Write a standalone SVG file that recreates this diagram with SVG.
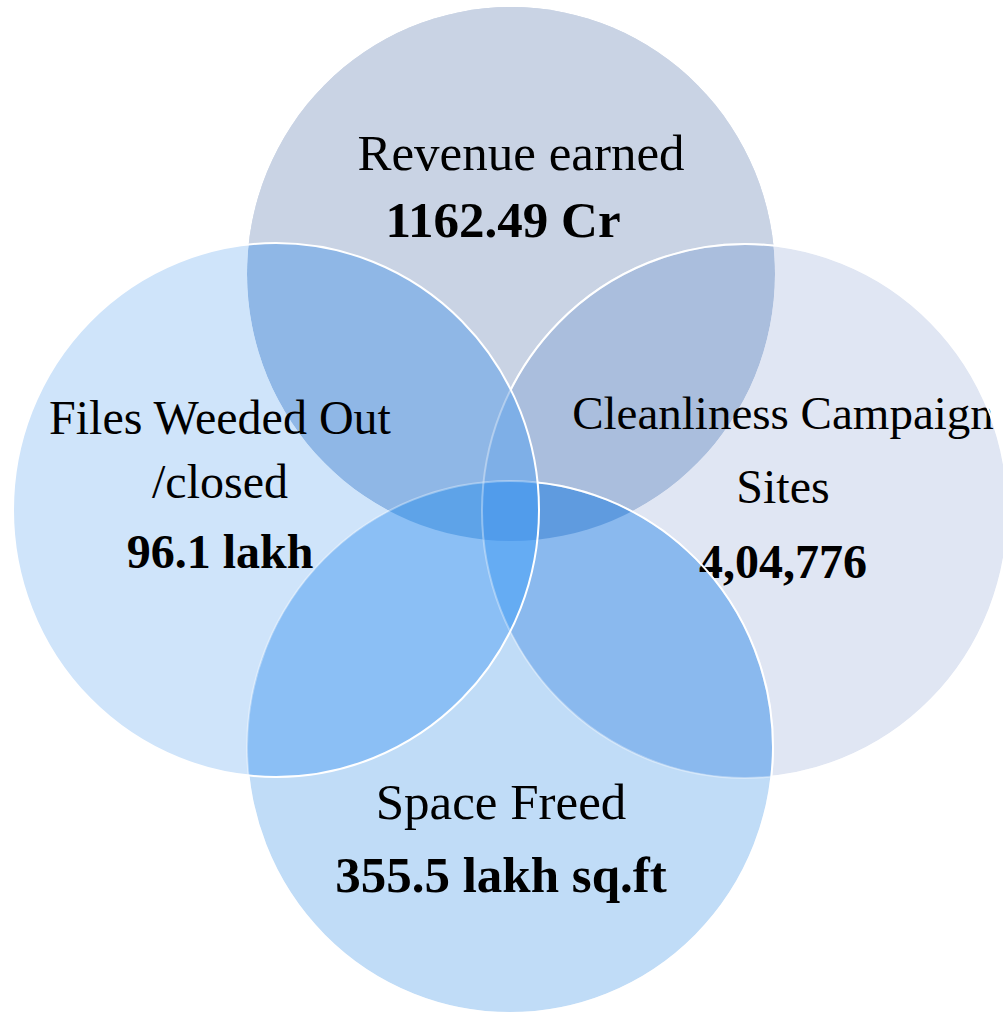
<svg xmlns="http://www.w3.org/2000/svg" xmlns:xlink="http://www.w3.org/1999/xlink" width="1003" height="1016" viewBox="0 0 1003 1016">
<style>
.lbl{font-family:"Liberation Serif","Times New Roman",serif;fill:#000;text-anchor:middle}
.m{font-size:48px}
.s{font-size:47px}
.l{font-size:51px}
.b{font-weight:bold}
</style>
<defs>
<ellipse id="eT" cx="511" cy="274" rx="264" ry="267"/>
<ellipse id="eL" cx="276" cy="510" rx="263" ry="267"/>
<ellipse id="eR" cx="745" cy="511" rx="263" ry="267"/>
<ellipse id="eB" cx="510" cy="747" rx="263" ry="266"/>
<clipPath id="cT"><ellipse cx="511" cy="274" rx="264" ry="267"/></clipPath>
<clipPath id="cL"><ellipse cx="276" cy="510" rx="263" ry="267"/></clipPath>
<clipPath id="cR"><ellipse cx="745" cy="511" rx="263" ry="267"/></clipPath>
<mask id="xT" maskUnits="userSpaceOnUse" x="0" y="0" width="1003" height="1016"><rect width="1003" height="1016" fill="#fff"/><use href="#eL" fill="#000"/><use href="#eR" fill="#000"/><use href="#eB" fill="#000"/></mask>
<mask id="xL" maskUnits="userSpaceOnUse" x="0" y="0" width="1003" height="1016"><rect width="1003" height="1016" fill="#fff"/><use href="#eT" fill="#000"/><use href="#eR" fill="#000"/><use href="#eB" fill="#000"/></mask>
<mask id="xR" maskUnits="userSpaceOnUse" x="0" y="0" width="1003" height="1016"><rect width="1003" height="1016" fill="#fff"/><use href="#eT" fill="#000"/><use href="#eL" fill="#000"/><use href="#eB" fill="#000"/></mask>
<mask id="xB" maskUnits="userSpaceOnUse" x="0" y="0" width="1003" height="1016"><rect width="1003" height="1016" fill="#fff"/><use href="#eT" fill="#000"/><use href="#eL" fill="#000"/><use href="#eR" fill="#000"/></mask>
<mask id="outLB" maskUnits="userSpaceOnUse" x="0" y="0" width="1003" height="1016"><rect width="1003" height="1016" fill="#fff"/><use href="#eL" fill="#000"/><use href="#eB" fill="#000"/></mask>
<mask id="outL" maskUnits="userSpaceOnUse" x="0" y="0" width="1003" height="1016"><rect width="1003" height="1016" fill="#fff"/><use href="#eL" fill="#000"/></mask>
</defs>
<rect width="1003" height="1016" fill="#fff"/>
<g id="base">
<use href="#eT" fill="#c9d3e4"/>
<use href="#eL" fill="#cfe4fa"/>
<use href="#eR" fill="#e0e6f3"/>
<use href="#eB" fill="#c0dcf7"/>
</g>
<g id="overlaps">
<g clip-path="url(#cT)"><use href="#eL" fill="#8fb7e6"/></g>
<g clip-path="url(#cT)"><use href="#eR" fill="#aabedd"/></g>
<g clip-path="url(#cL)"><use href="#eB" fill="#8bbff5"/></g>
<g clip-path="url(#cR)"><use href="#eB" fill="#8ab9ee"/></g>
<g clip-path="url(#cT)"><g clip-path="url(#cL)"><use href="#eR" fill="#7eafe7"/></g></g>
<g clip-path="url(#cT)"><g clip-path="url(#cL)"><use href="#eB" fill="#5ea3e8"/></g></g>
<g clip-path="url(#cT)"><g clip-path="url(#cR)"><use href="#eB" fill="#5f9bdf"/></g></g>
<g clip-path="url(#cL)"><g clip-path="url(#cR)"><use href="#eB" fill="#65acf3"/></g></g>
<g clip-path="url(#cT)"><g clip-path="url(#cL)"><g clip-path="url(#cR)"><use href="#eB" fill="#519ceb"/></g></g></g>
</g>
<g id="node-revenue">
<use href="#eT" fill="#c9d3e4" mask="url(#xT)"/>
<text class="lbl l" x="521" y="170">Revenue earned</text>
<text class="lbl l b" x="503" y="237">1162.49 Cr</text>
</g>
<g id="node-files">
<use href="#eL" fill="#cfe4fa" mask="url(#xL)"/>
<text class="lbl m" x="220" y="434">Files Weeded Out</text>
<text class="lbl m" x="220" y="498">/closed</text>
<text class="lbl m b" x="220" y="568">96.1 lakh</text>
</g>
<g id="node-cleanliness">
<use href="#eR" fill="#e0e6f3" mask="url(#xR)"/>
<text class="lbl s" x="783" y="429">Cleanliness Campaign</text>
<text class="lbl m" x="783" y="503">Sites</text>
<text class="lbl m b" x="783" y="578">4,04,776</text>
</g>
<g id="node-space">
<use href="#eB" fill="#c0dcf7" mask="url(#xB)"/>
<text class="lbl l" x="501" y="819">Space Freed</text>
<text class="lbl l b" x="501" y="892">355.5 lakh sq.ft</text>
</g>
<g id="outlines" fill="none" stroke="#fff" stroke-width="2">
<use href="#eR" stroke-opacity="0.35"/>
<use href="#eR" mask="url(#outLB)"/>
<use href="#eB" stroke-opacity="0.35"/>
<use href="#eB" mask="url(#outL)"/>
<use href="#eL"/>
</g>
</svg>
